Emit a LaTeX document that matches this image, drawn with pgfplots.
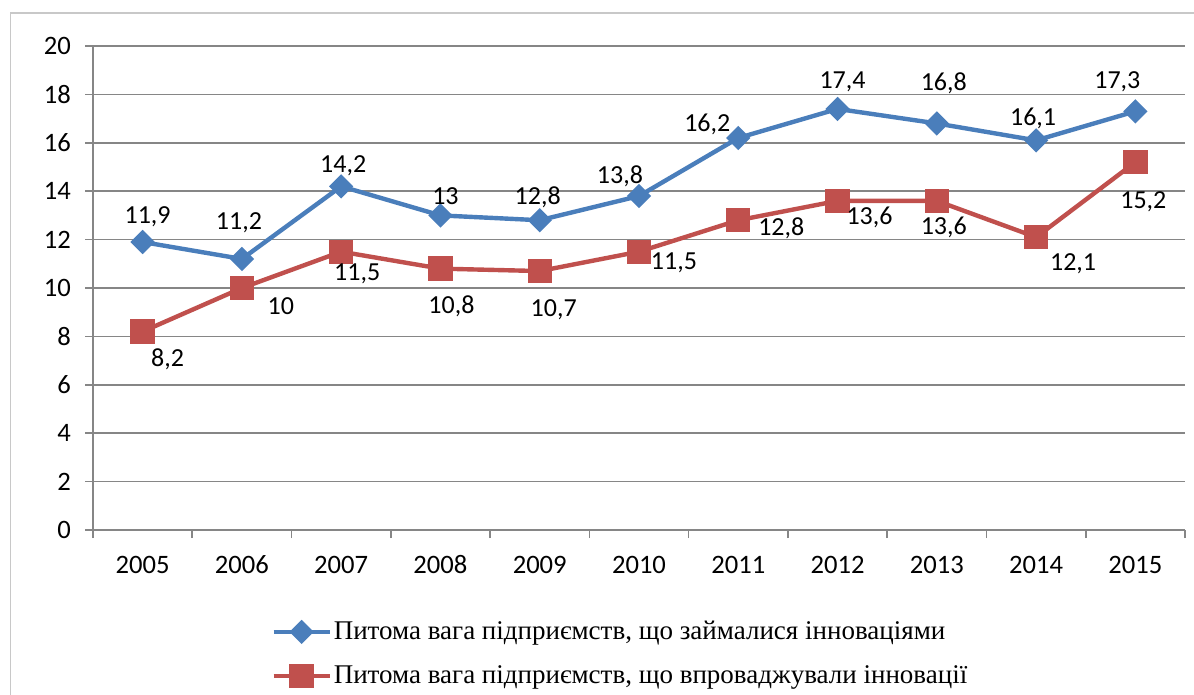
\documentclass[border=0pt]{standalone}
\usepackage{fontspec}
\setmainfont{Carlito}
\newfontfamily\legfont{Liberation Serif}
\usepackage{pgfplots}
\usepackage{pgfplotstable}
\pgfplotsset{compat=1.18}
\definecolor{sblue}{RGB}{74,126,187}
\definecolor{sred}{RGB}{192,80,77}
\definecolor{axgray}{RGB}{134,134,134}
\definecolor{framegray}{RGB}{200,200,200}

\pgfplotstableread{
x y lab dx dy
0 11.9 11,9 2.5 12.5
1 11.2 11,2 -1.5 18
2 14.2 14,2 1 10.5
3 13 13 2.5 9.5
4 12.8 12,8 -1 11.5
5 13.8 13,8 -9.5 10
6 16.2 16,2 -15.5 7
7 17.4 17,4 2.5 13.5
8 16.8 16,8 3.5 20
9 16.1 16,1 -1.5 11
10 17.3 17,3 -9 15
}\bluedata

\pgfplotstableread{
x y lab dx dy
0 8.2 8,2 12.5 -14
1 10 10 19.5 -9
2 11.5 11,5 8 -11
3 10.8 10,8 5.5 -19
4 10.7 10,7 7 -19.5
5 11.5 11,5 17.5 -5.5
6 12.8 12,8 21.5 -4
7 13.6 13,6 16 -8.5
8 13.6 13,6 3.5 -13.5
9 12.1 12,1 18.5 -13.5
10 15.2 15,2 4 -20
}\reddata

\begin{document}
\begin{tikzpicture}
\useasboundingbox (0pt,0pt) rectangle (597pt,-347.5pt);
\draw[framegray, line width=0.6pt] (5.2pt,-350pt) -- (5.2pt,-6.5pt) -- (600pt,-6.5pt);
\begin{axis}[
  at={(46.5pt,-265pt)}, anchor=south west,
  scale only axis, width=546pt, height=242pt,
  xmin=-0.5, xmax=10.5, ymin=0, ymax=20,
  axis lines*=left,
  axis line style={axgray, line width=0.8pt},
  xtick={0,...,10},
  xticklabels={2005,2006,2007,2008,2009,2010,2011,2012,2013,2014,2015},
  major x tick style={draw=none},
  minor xtick={-0.5,0.5,...,10.5},
  minor x tick style={axgray, line width=0.8pt},
  minor tick length=4pt,
  ytick={0,2,...,20},
  y tick style={axgray, line width=0.8pt},
  major tick length=4pt,
  tick align=outside,
  ymajorgrids,
  grid style={axgray, line width=0.8pt},
  /pgf/number format/assume math mode=true,
  ticklabel style={font=\fontsize{13.3}{15}\selectfont, text=black},
  xticklabel style={anchor=base, yshift=-17.5pt, text height=9pt, text depth=2pt},
  yticklabel style={xshift=-3.5pt},
  legend style={at={(rel axis cs:0.1575,-0.171)}, anchor=north west, draw=none, fill=none,
    font=\legfont\fontsize{13.5}{15}\selectfont, row sep=7.5pt,
    nodes={inner xsep=1pt, inner ysep=2pt}},
  legend cell align=left,
  legend image code/.code={
    \draw[mark repeat=2,mark phase=2] plot coordinates {(0pt,0pt) (14pt,0pt) (28pt,0pt)};
  },
]
\addplot[sblue, line width=2.2pt, mark=square*, mark size=3.2pt, mark options={rotate=45, solid},
  point meta=explicit symbolic,
  visualization depends on={\thisrow{dx} \as \dx},
  visualization depends on={\thisrow{dy} \as \dy},
  nodes near coords,
  nodes near coords style={font=\fontsize{13}{15}\selectfont, anchor=center, text=black, xshift={\dx*1pt}, yshift={\dy*1pt}},
] table[x=x, y=y, meta=lab] {\bluedata};
\addlegendentry{Питома вага підприємств, що займалися інноваціями}
\addplot[sred, line width=2.2pt, mark=square*, mark size=5pt, mark options={solid},
  point meta=explicit symbolic,
  visualization depends on={\thisrow{dx} \as \dx},
  visualization depends on={\thisrow{dy} \as \dy},
  nodes near coords,
  nodes near coords style={font=\fontsize{13}{15}\selectfont, anchor=center, text=black, xshift={\dx*1pt}, yshift={\dy*1pt}},
] table[x=x, y=y, meta=lab] {\reddata};
\addlegendentry{Питома вага підприємств, що впроваджували інновації}
\end{axis}
\end{tikzpicture}
\end{document}
